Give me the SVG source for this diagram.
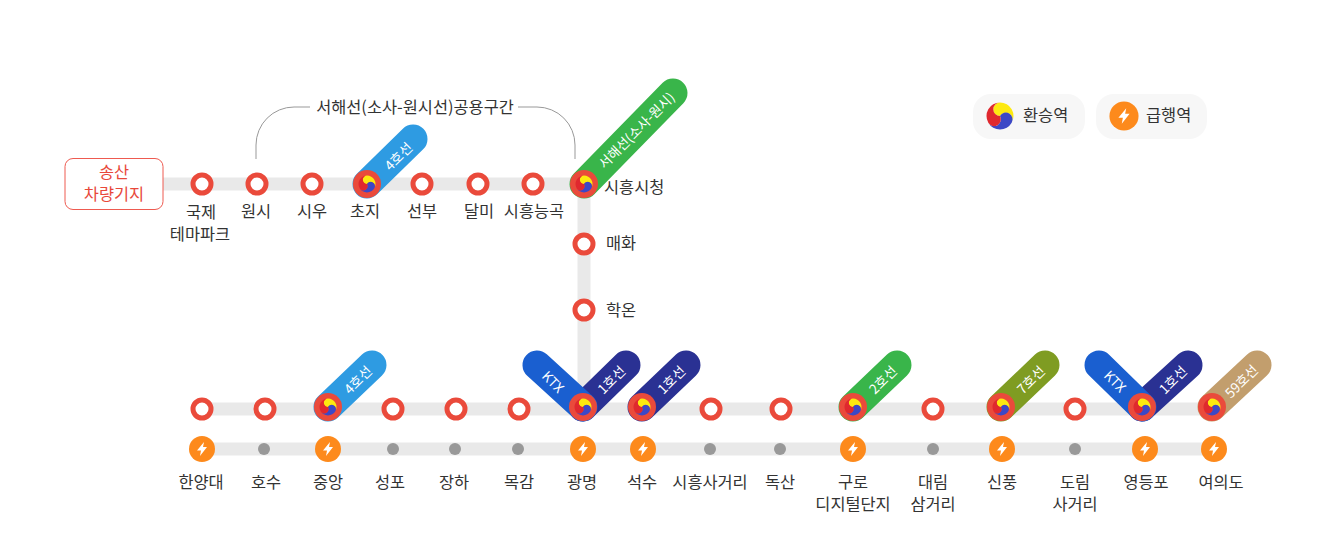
<svg xmlns="http://www.w3.org/2000/svg" xmlns:xlink="http://www.w3.org/1999/xlink" width="1322" height="558" viewBox="0 0 1322 558">
<style>
text{font-family:"Noto Sans CJK KR","Noto Sans",sans-serif;font-size:16.4px;fill:#333;text-anchor:middle}
.t{stroke:#e9e9e9;stroke-width:13;fill:none}
.p{stroke-width:29;stroke-linecap:round;fill:none}
.w{fill:#fff;font-size:13.5px}
.r{fill:#fff;stroke:#ea4a3b;stroke-width:5}
.g{fill:#999}
.b{fill:none;stroke:#999;stroke-width:1}
.l{text-anchor:start}
</style>
<defs>
<path id="c" d="M0 0A5 5 0 0 1 0-10A10 10 0 0 1 8.66 5A5 5 0 0 0 0 0Z"/>
<g id="tg"><use xlink:href="#c" fill="#fde910" transform="rotate(0)"/><use xlink:href="#c" fill="#3c48c6" transform="rotate(120)"/><use xlink:href="#c" fill="#e0282e" transform="rotate(240)"/></g>
<g id="x"><circle r="14" fill="#ea4a3b"/><use xlink:href="#tg" transform="scale(.85)"/></g>
<g id="e"><circle r="13" fill="#fd8a1c"/><path d="M2-7L-5 1.500H-1L-2 7L5-2H1Z" fill="#fff"/></g>
<circle id="o" r="9" class="r"/>
<circle id="d" r="6" class="g"/>
</defs>
<g id="connectors">
<path class="t" d="M160 184H584V409"/>
<path class="t" d="M202 409H1212"/>
<path class="t" d="M202 449H1214"/>
<path class="b" d="M256 159V145A38 38 0 0 1 294 107H310"/>
<path class="b" d="M518 107H537A38 38 0 0 1 575 145V159"/>
</g>
<g id="lines">
<path class="p" stroke="#2e9be2" d="M367 184L413 139"/>
<path class="p" stroke="#39b54a" d="M584 184L673 93"/>
<path class="p" stroke="#2e9be2" d="M328 407L372 365"/>
<path class="p" stroke="#2a3193" d="M583 407L626 365"/>
<path class="p" stroke="#1a5fd0" d="M583 407L537 365"/>
<path class="p" stroke="#2a3193" d="M642 407L686 365"/>
<path class="p" stroke="#39b54a" d="M853 407L897 365"/>
<path class="p" stroke="#7f9c22" d="M1001 407L1045 365"/>
<path class="p" stroke="#2a3193" d="M1142 407L1188 365"/>
<path class="p" stroke="#1a5fd0" d="M1142 407L1099 365"/>
<path class="p" stroke="#c29e6d" d="M1212 407L1257 365"/>
<text class="w" transform="translate(402 160) rotate(-45)">4호선</text>
<text class="w" transform="translate(640 134) rotate(-45)">서해선(소사-원시)</text>
<text class="w" transform="translate(361.500 383.500) rotate(-45)">4호선</text>
<text class="w" transform="translate(549.500 385.500) rotate(45)">KTX</text>
<text class="w" transform="translate(615 383.500) rotate(-45)">1호선</text>
<text class="w" transform="translate(675 383.500) rotate(-45)">1호선</text>
<text class="w" transform="translate(886.500 383.500) rotate(-45)">2호선</text>
<text class="w" transform="translate(1034.500 383.500) rotate(-45)">7호선</text>
<text class="w" transform="translate(1111.500 385) rotate(45)">KTX</text>
<text class="w" transform="translate(1176.500 383.500) rotate(-45)">1호선</text>
<text class="w" transform="translate(1245 385) rotate(-45)">59호선</text>
</g>
<g id="depot"><rect x="65" y="158.500" width="98" height="51" rx="8" fill="#fff" stroke="#ee5a50"/><text x="114" y="178" style="fill:#e8483a">송산</text><text x="114" y="200" style="fill:#e8483a">차량기지</text></g>
<text x="415" y="113">서해선(소사-원시선)공용구간</text>
<g id="s-gukje"><use xlink:href="#o" x="202" y="184"/><text x="201" y="218">국제</text><text x="200" y="240">테마파크</text></g>
<g id="s-wonsi"><use xlink:href="#o" x="257" y="184"/><text x="256" y="217">원시</text></g>
<g id="s-siu"><use xlink:href="#o" x="312" y="184"/><text x="312" y="217">시우</text></g>
<g id="s-choji"><use xlink:href="#x" x="367" y="184"/><text x="365" y="217">초지</text></g>
<g id="s-seonbu"><use xlink:href="#o" x="422" y="184"/><text x="422" y="217">선부</text></g>
<g id="s-dalmi"><use xlink:href="#o" x="478" y="184"/><text x="479" y="217">달미</text></g>
<g id="s-neunggok"><use xlink:href="#o" x="533" y="184"/><text x="534" y="217">시흥능곡</text></g>
<g id="s-siheung"><use xlink:href="#x" x="584" y="184"/><text class="l" x="604" y="193">시흥시청</text></g>
<g id="s-maehwa"><use xlink:href="#o" x="584" y="244"/><text class="l" x="606" y="249">매화</text></g>
<g id="s-hageun"><use xlink:href="#o" x="584" y="310"/><text class="l" x="606" y="316">학온</text></g>
<g id="s-hanyang"><use xlink:href="#o" x="202" y="409"/><use xlink:href="#e" x="202" y="449"/><text x="201" y="488">한양대</text></g>
<g id="s-hosu"><use xlink:href="#o" x="265" y="409"/><use xlink:href="#d" x="264" y="449"/><text x="266" y="488">호수</text></g>
<g id="s-jungang"><use xlink:href="#x" x="328" y="407"/><use xlink:href="#e" x="328" y="449"/><text x="328" y="488">중앙</text></g>
<g id="s-seongpo"><use xlink:href="#o" x="393" y="409"/><use xlink:href="#d" x="393" y="449"/><text x="390" y="488">성포</text></g>
<g id="s-jangha"><use xlink:href="#o" x="456" y="409"/><use xlink:href="#d" x="455" y="449"/><text x="454" y="488">장하</text></g>
<g id="s-mokgam"><use xlink:href="#o" x="519" y="409"/><use xlink:href="#d" x="518" y="449"/><text x="519" y="488">목감</text></g>
<g id="s-gwangmyeong"><use xlink:href="#x" x="583" y="407"/><use xlink:href="#e" x="583" y="449"/><text x="582" y="488">광명</text></g>
<g id="s-seoksu"><use xlink:href="#x" x="642" y="407"/><use xlink:href="#e" x="643" y="449"/><text x="642" y="488">석수</text></g>
<g id="s-sageori"><use xlink:href="#o" x="711" y="409"/><use xlink:href="#d" x="710" y="449"/><text x="710" y="488">시흥사거리</text></g>
<g id="s-doksan"><use xlink:href="#o" x="781" y="409"/><use xlink:href="#d" x="780" y="449"/><text x="780" y="488">독산</text></g>
<g id="s-guro"><use xlink:href="#x" x="853" y="407"/><use xlink:href="#e" x="853" y="449"/><text x="853" y="488">구로</text><text x="853" y="510">디지털단지</text></g>
<g id="s-daerim"><use xlink:href="#o" x="933" y="409"/><use xlink:href="#d" x="933" y="449"/><text x="933" y="488">대림</text><text x="933" y="510">삼거리</text></g>
<g id="s-sinpung"><use xlink:href="#x" x="1001" y="407"/><use xlink:href="#e" x="1002" y="449"/><text x="1002" y="488">신풍</text></g>
<g id="s-dorim"><use xlink:href="#o" x="1075" y="409"/><use xlink:href="#d" x="1075" y="449"/><text x="1075" y="488">도림</text><text x="1075" y="510">사거리</text></g>
<g id="s-yeongdeungpo"><use xlink:href="#x" x="1142" y="407"/><use xlink:href="#e" x="1145" y="449"/><text x="1146" y="488">영등포</text></g>
<g id="s-yeouido"><use xlink:href="#x" x="1212" y="407"/><use xlink:href="#e" x="1214" y="449"/><text x="1221" y="488">여의도</text></g>
<g id="legend-transfer"><rect x="973" y="94" width="112" height="45" rx="18" fill="#f7f7f7"/><use xlink:href="#tg" transform="translate(1000 116) scale(1.35)"/><text class="l" x="1023" y="121">환승역</text></g>
<g id="legend-express"><rect x="1096" y="94" width="111" height="45" rx="18" fill="#f7f7f7"/><use xlink:href="#e" transform="translate(1124 116) scale(1.12)"/><text class="l" x="1146" y="121">급행역</text></g>
</svg>
